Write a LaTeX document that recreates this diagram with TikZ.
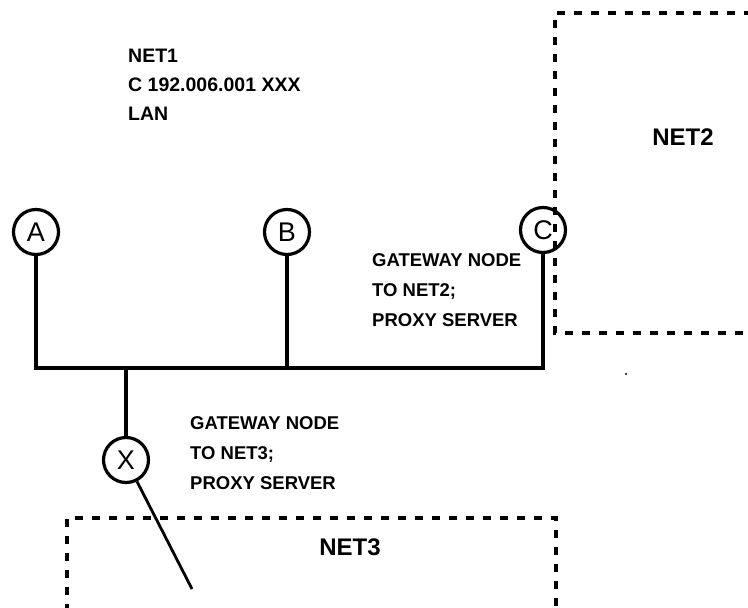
\documentclass[tikz,border=0pt]{standalone}
\usepackage{fontspec}
\setmainfont{Liberation Sans}
\begin{document}
\begin{tikzpicture}[x=1pt,y=-1pt,
  wire/.style={line width=3.2pt},
  dashbox/.style={line width=3.2pt,dash pattern=on 8pt off 9pt},
  hostnode/.style={circle,draw,line width=3.2pt,minimum size=45pt,inner sep=0pt,font=\fontsize{27}{27}\selectfont},
  lbl/.style={anchor=north west,inner sep=0pt,align=left,font=\bfseries\fontsize{18.5}{30}\selectfont},
  netlbl/.style={inner sep=0pt,font=\bfseries\fontsize{24}{24}\selectfont}]
\useasboundingbox (0,0) rectangle (748,608);
% LAN label
\node[lbl,font=\bfseries\fontsize{19.5}{29}\selectfont] (net1) at (128,49) {NET1\\C 192.006.001 XXX\\LAN};
% hosts
\node[hostnode] (A) at (36,232) {A};
\node[hostnode] (B) at (287,232) {B};
\node[hostnode] (C) at (543,230) {C};
\node[hostnode] (X) at (126,460) {X};
% bus
\coordinate (busL) at (36,368);
\coordinate (busR) at (543,368);
\coordinate (busB) at (287,368);
\coordinate (busX) at (126,368);
\draw[wire] (A) -- (busL) -- (busR) -- (C);
\draw[wire] (B) -- (busB);
\draw[wire] (busX) -- (X);
\coordinate (xe) at (192,589);
\draw[wire,line width=2.8pt] (X) -- (xe);
% NET2 box
\draw[dashbox] (752,13) -- (555,13) -- (555,333) -- (752,333);
\node[netlbl] (net2) at (683,137) {NET2};
% NET3 box
\draw[dashbox] (67,612) -- (67,518) -- (556,518) -- (556,612);
\node[netlbl] (net3) at (350,547) {NET3};
% gateway labels
\node[lbl] (gw2) at (372,253) {GATEWAY NODE\\TO NET2;\\PROXY SERVER};
\node[lbl] (gw3) at (190,416) {GATEWAY NODE\\TO NET3;\\PROXY SERVER};
% speck
\fill (626,374) circle (1.2pt);
\end{tikzpicture}
\end{document}
